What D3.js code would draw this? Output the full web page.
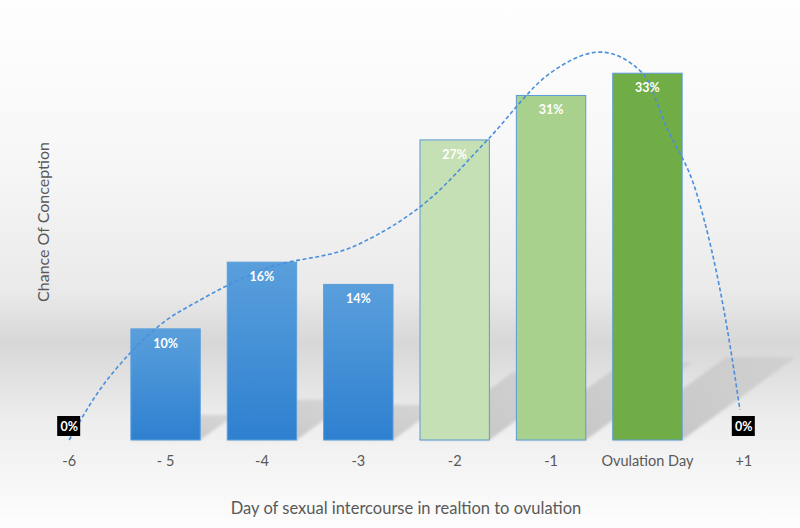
<!DOCTYPE html>
<html>
<head>
<meta charset="utf-8">
<script src="https://cdn.jsdelivr.net/npm/d3@7"></script>
<style>
  body { margin: 0; background: #fff; }
  svg { display: block; font-family: Lato, "Open Sans", sans-serif; }
</style>
</head>
<body>
<div id="chart"></div>
<script>
var width = 800,
    height = 528,
    margin = { top: 51, right: 8, bottom: 88, left: 21 },
    baseline = height - margin.bottom;

// data
var days = ["-6", "- 5", "-4", "-3", "-2", "-1", "Ovulation Day", "+1"];
var chance = [0, 10, 16, 14, 27, 31, 33, 0];
var barFill = [null, "blue", "blue", "blue", "#c5e0b4", "#a9d18e", "#70ad47", null];
// dashed trend line, x in category units (0 = "-6"), y in %
var trendX = [0, 0.3, 0.63, 0.95, 1.36, 2.0, 3.0, 3.73, 4.34, 4.99, 5.51, 5.95, 6.2, 6.51, 6.83, 6.96];
var trendY = [0, 4.3, 7.8, 10.4, 12.6, 15.3, 17.6, 21.6, 27.0, 33.0, 34.9, 33.0, 28.1, 22.2, 9.9, 2.7];

var svg = d3.select("#chart").append("svg").attr("width", width).attr("height", height);
var defs = svg.append("defs");

var bg = defs.append("linearGradient").attr("id", "bg").attr("x1", 0).attr("y1", 0).attr("x2", 0).attr("y2", 1);
bg.append("stop").attr("offset", "0%").attr("stop-color", "#fefefe");
bg.append("stop").attr("offset", "30%").attr("stop-color", "#f7f7f7");
bg.append("stop").attr("offset", "55%").attr("stop-color", "#eaeaea");
bg.append("stop").attr("offset", "65%").attr("stop-color", "#d7d7d7");
bg.append("stop").attr("offset", "80%").attr("stop-color", "#eeeeee");
bg.append("stop").attr("offset", "100%").attr("stop-color", "#fdfdfd");

var blueGrad = defs.append("linearGradient").attr("id", "blue").attr("x1", 0).attr("y1", 0).attr("x2", 0).attr("y2", 1);
blueGrad.append("stop").attr("offset", "0%").attr("stop-color", "#5a9fdc");
blueGrad.append("stop").attr("offset", "100%").attr("stop-color", "#2e80d0");

var shadowGrad = defs.append("linearGradient").attr("id", "shadow").attr("x1", 0).attr("y1", 1).attr("x2", 1).attr("y2", 0);
shadowGrad.append("stop").attr("offset", "0%").attr("stop-color", "#bdbdbd").attr("stop-opacity", 0.9);
shadowGrad.append("stop").attr("offset", "100%").attr("stop-color", "#c8c8c8").attr("stop-opacity", 0.6);

defs.append("filter").attr("id", "blur").append("feGaussianBlur").attr("stdDeviation", 1.5);

svg.append("rect").attr("width", width).attr("height", height).attr("fill", "url(#bg)");

var x = d3.scaleBand().domain(d3.range(days.length)).range([margin.left, width - margin.right])
    .paddingInner(0.28).paddingOuter(0.14);
var y = d3.scaleLinear().domain([0, 35]).range([baseline, margin.top]);
var xc = d3.scaleLinear().domain([0, 1]).range([x(0) + x.bandwidth() / 2, x(1) + x.bandwidth() / 2]);

// perspective shadows behind bars
svg.append("g").attr("filter", "url(#blur)")
    .selectAll("path").data(d3.range(days.length).filter(function(i) { return chance[i] > 0; }))
    .enter().append("path")
    .attr("fill", "url(#shadow)")
    .attr("d", function(i) {
        var h = baseline - y(chance[i]),
            x0 = x(i), x1 = x(i) + x.bandwidth(),
            dx = h * 0.31, dy = h * 0.226;
        return "M" + x0 + "," + baseline + "L" + x1 + "," + baseline +
            "L" + (x1 + dx) + "," + (baseline - dy) + "L" + (x0 + dx) + "," + (baseline - dy) + "Z";
    });

// bars
svg.append("g").selectAll("rect").data(d3.range(days.length).filter(function(i) { return chance[i] > 0; }))
    .enter().append("rect")
    .attr("x", function(i) { return x(i); })
    .attr("y", function(i) { return y(chance[i]); })
    .attr("width", x.bandwidth())
    .attr("height", function(i) { return baseline - y(chance[i]); })
    .attr("fill", function(i) { return barFill[i] == "blue" ? "url(#blue)" : barFill[i]; })
    .attr("stroke", function(i) { return barFill[i] == "blue" ? "#5a9fdc" : "#5b9bd5"; })
    .attr("stroke-width", 1);

// dashed trend line
var line = d3.line()
    .x(function(d, i) { return xc(trendX[i]); })
    .y(function(d, i) { return y(trendY[i]); })
    .curve(d3.curveMonotoneX);

svg.append("path").datum(trendX)
    .attr("d", line)
    .attr("fill", "none")
    .attr("stroke", "#4a8fdc")
    .attr("stroke-width", 1.6)
    .attr("stroke-dasharray", "4,2.5");

// value labels
var labels = svg.append("g").selectAll("g").data(d3.range(days.length)).enter().append("g");
labels.filter(function(i) { return chance[i] == 0; }).append("rect")
    .attr("x", function(i) { return xc(i) - 12; })
    .attr("y", baseline - 24)
    .attr("width", 23)
    .attr("height", 20)
    .attr("fill", "#000");
labels.append("text")
    .attr("x", function(i) { return xc(i); })
    .attr("y", function(i) { return chance[i] == 0 ? baseline - 9.5 : y(chance[i]) + 19; })
    .attr("text-anchor", "middle")
    .attr("fill", "#fff")
    .style("font-size", "12.5px")
    .style("font-weight", "bold")
    .text(function(i) { return chance[i] + "%"; });

// x axis labels
svg.append("g").selectAll("text").data(days).enter().append("text")
    .attr("x", function(d, i) { return xc(i); })
    .attr("y", baseline + 26)
    .attr("text-anchor", "middle")
    .attr("fill", "#595959")
    .style("font-size", "14.5px")
    .text(function(d) { return d; });

svg.append("text")
    .attr("x", 406)
    .attr("y", 514)
    .attr("text-anchor", "middle")
    .attr("fill", "#595959")
    .style("font-size", "16.5px")
    .text("Day of sexual intercourse in realtion to ovulation");

svg.append("text")
    .attr("transform", "translate(49,222) rotate(-90)")
    .attr("text-anchor", "middle")
    .attr("fill", "#595959")
    .style("font-size", "16px")
    .text("Chance Of Conception");
</script>
</body>
</html>
